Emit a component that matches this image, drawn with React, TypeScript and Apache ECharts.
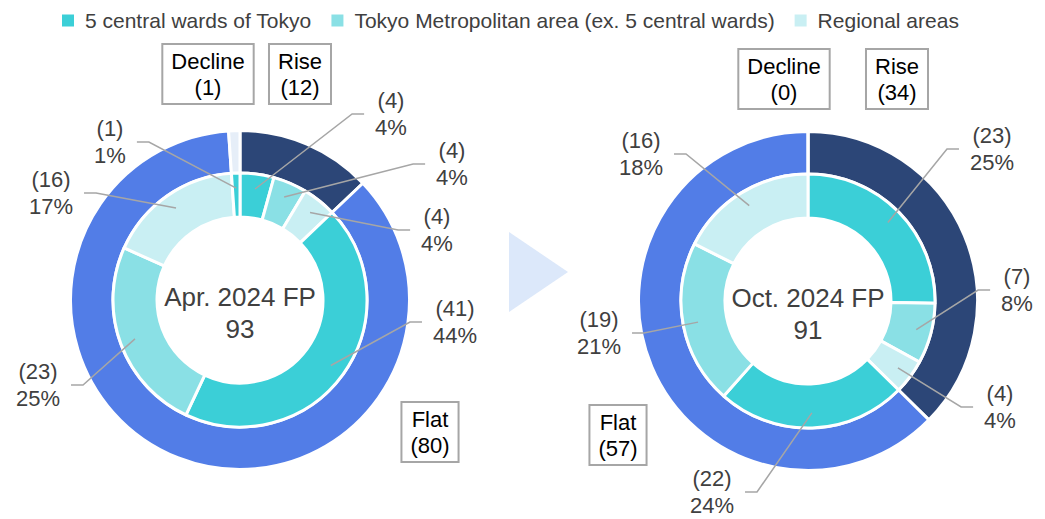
import React, { useEffect, useRef } from "react";
import * as echarts from "echarts";

// Property counts by rent trend and by region, two fiscal periods
const regionNames = [
  "5 central wards of Tokyo",
  "Tokyo Metropolitan area (ex. 5 central wards)",
  "Regional areas",
];
const trendNames = ["Rise", "Flat", "Decline"];

const aprTitle = "Apr. 2024 FP";
const aprTrend = [12, 80, 1];
const aprRise = [4, 4, 4];
const aprFlat = [41, 23, 16];
const aprDecline = [1, 0, 0];

const octTitle = "Oct. 2024 FP";
const octTrend = [34, 57, 0];
const octRise = [23, 7, 4];
const octFlat = [22, 19, 16];
const octDecline = [0, 0, 0];

const regionColors = ["#3BCFD7", "#8AE0E5", "#C9EFF3"];
const trendColors = ["#2C4677", "#527DE7", "#E6EEF8"];

const FONT = '"Liberation Sans", Arial, sans-serif';
const TEXT = "#404040";

// label placement for each chart (layout only)
const aprCenter = [240, 300];
const octCenter = [808, 301];
const aprTrendLabelPos = [[300, 74], [430, 432], [208, 74]];
const octTrendLabelPos = [[897, 79], [618, 435], [784, 79]];
const aprRegionLabelPos = [
  [391, 114], [452, 164], [437, 230],
  [455, 322], [38, 385], [51, 193],
  [110, 142],
];
const octRegionLabelPos = [
  [992, 149], [1017, 290], [1000, 407],
  [712, 492], [599, 333], [641, 154],
];

const INNER_R = [83, 127];
const OUTER_R = [127, 169.5];
const LEADER_R = 112; // where leader lines touch the inner slices
const STUB = 12;
const GAP = 11;

function sum(a: number[]) {
  return a.reduce((s, v) => s + v, 0);
}

function buildSeries(
  id: string,
  center: number[],
  trend: number[],
  parts: number[][],
  trendPos: number[][],
  regionPos: number[][]
) {
  const total = sum(trend);
  const outerData = trendNames.map((name, i) => ({
    name,
    value: trend[i],
    itemStyle: { color: trendColors[i] },
  }));
  const innerData: any[] = [];
  parts.forEach((vals) => {
    vals.forEach((v, r) => {
      if (v > 0) {
        innerData.push({
          name: regionNames[r],
          value: v,
          itemStyle: { color: regionColors[r] },
        });
      }
    });
  });

  // mid-angle anchor of each inner slice, clockwise from 12 o'clock
  const innerTotal = sum(innerData.map((d) => d.value));
  let cum = 0;
  const anchors = innerData.map((d) => {
    const mid = cum + d.value / 2;
    cum += d.value;
    const a = ((90 - (mid / innerTotal) * 360) * Math.PI) / 180;
    return [center[0] + LEADER_R * Math.cos(a), center[1] - LEADER_R * Math.sin(a)];
  });

  const common = {
    type: "pie",
    center,
    startAngle: 90,
    clockwise: true,
    avoidLabelOverlap: false,
    minShowLabelAngle: 0,
    emphasis: { disabled: true },
  };

  const outer = {
    ...common,
    id: id + "-outer",
    z: 2,
    radius: OUTER_R,
    itemStyle: { borderColor: "#fff", borderWidth: 3 },
    label: {
      show: true,
      position: "outside",
      formatter: (p: any) => `${p.name}\n(${p.value})`,
      fontFamily: FONT,
      fontSize: 22,
      lineHeight: 26,
      color: "#000",
      backgroundColor: "#fff",
      borderColor: "#A6A6A6",
      borderWidth: 2,
      padding: [4, 8, 2, 8],
    },
    labelLine: { show: false },
    labelLayout: (params: any) => {
      const p = trendPos[params.dataIndex];
      return { x: p[0], y: p[1], align: "center", verticalAlign: "middle" };
    },
    data: outerData,
  };

  const inner = {
    ...common,
    id: id + "-inner",
    z: 3,
    radius: INNER_R,
    itemStyle: { borderColor: "#fff", borderWidth: 3 },
    label: { show: false },
    labelLine: { show: false },
    data: innerData,
  };

  // transparent copy of the inner ring that carries its labels and leader
  // lines on top of every slice
  const innerLabels = {
    ...common,
    id: id + "-inner-labels",
    z: 4,
    silent: true,
    radius: INNER_R,
    itemStyle: { color: "rgba(0,0,0,0)", borderWidth: 0 },
    label: {
      show: true,
      position: "outside",
      formatter: (p: any) =>
        `(${p.value})\n${Math.round((p.value / total) * 100)}%`,
      fontFamily: FONT,
      fontSize: 22,
      lineHeight: 27,
      color: TEXT,
      opacity: 1,
    },
    labelLine: {
      show: true,
      length: 20,
      length2: STUB,
      lineStyle: { color: "#A6A6A6", width: 1.5, opacity: 1 },
    },
    labelLayout: (params: any) => {
      const i = params.dataIndex;
      const p = regionPos[i];
      const anchor = anchors[i];
      const half = params.labelRect.width / 2 + GAP;
      const dir = p[0] >= anchor[0] ? -1 : 1;
      const edge = [p[0] + dir * half, p[1]];
      const bend = [edge[0] + dir * STUB, p[1]];
      return {
        x: p[0],
        y: p[1],
        align: "center",
        verticalAlign: "middle",
        labelLinePoints: [anchor, bend, edge],
      };
    },
    data: innerData.map((d) => ({ name: d.name, value: d.value })),
  };

  return { outer, inner, innerLabels, total };
}

export default function App() {
  const ref = useRef<HTMLDivElement>(null);

  useEffect(() => {
    if (!ref.current) return;
    const chart = echarts.init(ref.current, undefined, { renderer: "svg" });

    const apr = buildSeries(
      "apr",
      aprCenter,
      aprTrend,
      [aprRise, aprFlat, aprDecline],
      aprTrendLabelPos,
      aprRegionLabelPos
    );
    const oct = buildSeries(
      "oct",
      octCenter,
      octTrend,
      [octRise, octFlat, octDecline],
      octTrendLabelPos,
      octRegionLabelPos
    );

    chart.setOption({
      animation: false,
      backgroundColor: "#fff",
      legend: {
        data: regionNames,
        left: 55,
        top: 5,
        itemWidth: 14,
        itemHeight: 14,
        itemGap: 18,
        icon: "rect",
        selectedMode: false,
        textStyle: {
          fontFamily: FONT,
          fontSize: 21,
          color: TEXT,
          padding: [0, 0, 0, 5],
        },
      },
      graphic: [
        {
          type: "polygon",
          shape: { points: [[509, 232], [568, 272], [509, 312]] },
          style: { fill: "#DCE8FA" },
          silent: true,
        },
        {
          type: "text",
          x: aprCenter[0],
          y: 313,
          style: {
            text: `${aprTitle}\n${apr.total}`,
            align: "center",
            verticalAlign: "middle",
            font: `26px ${FONT}`,
            lineHeight: 32,
            fill: TEXT,
          },
          silent: true,
        },
        {
          type: "text",
          x: octCenter[0],
          y: 314,
          style: {
            text: `${octTitle}\n${oct.total}`,
            align: "center",
            verticalAlign: "middle",
            font: `26px ${FONT}`,
            lineHeight: 32,
            fill: TEXT,
          },
          silent: true,
        },
      ],
      series: [
        apr.outer,
        oct.outer,
        apr.inner,
        oct.inner,
        apr.innerLabels,
        oct.innerLabels,
      ],
    });

    return () => chart.dispose();
  }, []);

  return (
    <div
      ref={ref}
      style={{ position: "absolute", left: 0, top: 0, width: 1045, height: 519 }}
    />
  );
}
